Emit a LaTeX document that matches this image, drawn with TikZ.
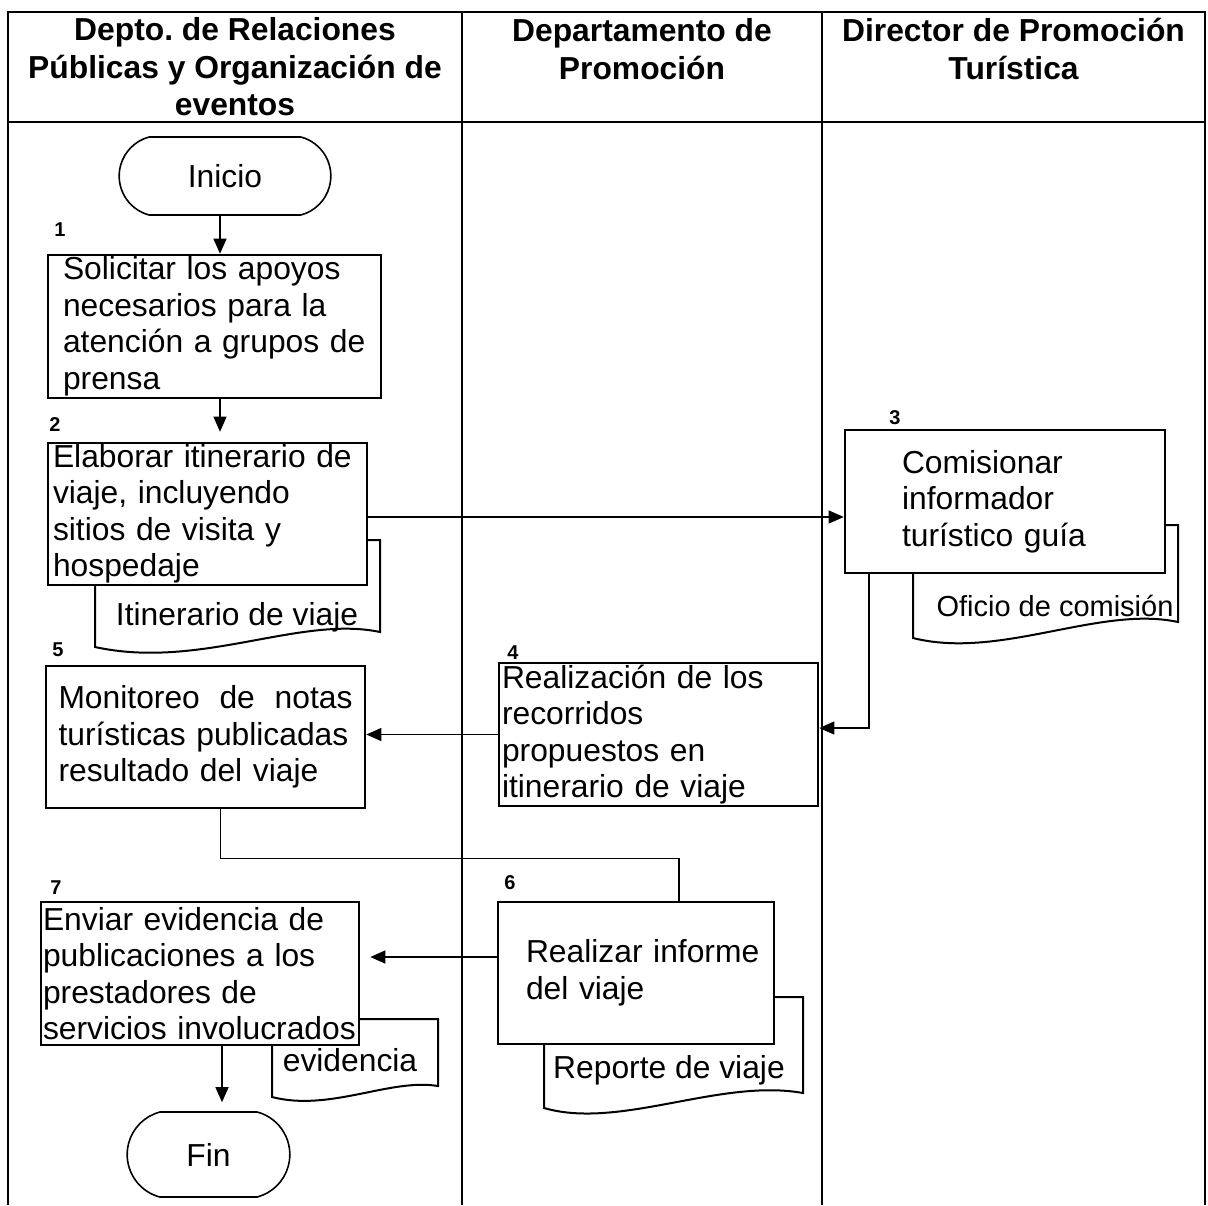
\documentclass[tikz,border=0pt]{standalone}
\usepackage{fontspec}
\setmainfont{Liberation Sans}
\usetikzlibrary{arrows.meta,shapes.misc}

\begin{document}
\begin{tikzpicture}[x=0.5pt,y=-0.5pt,
    lane/.style={line width=1pt},
    head/.style={align=center,font=\bfseries\fontsize{15.9}{18.75}\selectfont},
    task/.style={draw,line width=1.3pt,fill=white,align=left,inner ysep=0pt,
      font=\fontsize{15.9}{18.25}\selectfont},
    term/.style={draw,line width=0.8pt,rounded rectangle,rounded rectangle arc length=150,
      font=\fontsize{15.9}{18.25}\selectfont},
    num/.style={inner sep=0pt,font=\bfseries\fontsize{10}{12}\selectfont},
    doc/.style={line width=1pt},
    doctext/.style={inner sep=0pt,font=\fontsize{15.9}{18.25}\selectfont},
    flow/.style={-{Triangle[length=7.5pt,width=6.5pt]},line width=0.6pt},
    link/.style={line width=0.6pt}]
    \useasboundingbox (0,0) rectangle (1208,1205);
    % Lanes and header
    \draw[lane] (8,1205) -- (8,12) -- (1205,12) -- (1205,1205);
    \draw[lane] (8,122) -- (1205,122);
    \draw[lane] (462,12) -- (462,1205);
    \draw[lane] (822,12) -- (822,1205);
    \node[head] (h1) at (235,67) {Depto.\ de Relaciones\\Públicas y Organización de\\eventos};
    \node[head] (h2) at (642,49) {Departamento de\\Promoción};
    \node[head] (h3) at (1013.5,49) {Director de Promoción\\Turística};
    % Documents behind the boxes
    \draw[doc] (367,540) -- (380,540) -- (380,632) .. controls (300,615) and (200,670) .. (95,647) -- (95,585);
    \node[doctext] (d2) at (237,617) {Itinerario de viaje};
    \draw[doc] (1165,525) -- (1178,525) -- (1178,622) .. controls (1100,605) and (1000,660) .. (913,638) -- (913,573);
    \node[doctext,font=\fontsize{14.5}{17}\selectfont] (d3) at (1055,606) {Oficio de comisión};
    \draw[doc] (774,997) -- (803,997) -- (803,1093) .. controls (720,1078) and (620,1130) .. (544,1108) -- (544,1044);
    \node[doctext] (d6) at (669,1070) {Reporte de viaje};
    \draw[doc] (359,1019) -- (438,1019) -- (438,1086) .. controls (390,1078) and (330,1112) .. (272,1097) -- (272,1045);
    \node[doctext] (d7) at (350,1060) {evidencia};
    % Depto. de Relaciones Publicas
    \node[term,minimum width=112.5pt,minimum height=39pt] (inicio) at (225,176) {Inicio};
    \node[num] (n1) at (60,230) {1};
    \node[task,minimum width=166.5pt,minimum height=71.5pt,inner xsep=7.5pt,text width=151.5pt] (b1) at (214.5,326.5)
      {Solicitar los apoyos\\necesarios para la\\atención a grupos de\\prensa};
    \node[num] (n2) at (55,425) {2};
    \node[task,minimum width=159.5pt,minimum height=71pt,inner xsep=2.5pt,text width=154.5pt] (b2) at (207.5,514)
      {Elaborar itinerario de\\viaje, incluyendo\\sitios de visita y\\hospedaje};
    \node[num] (n5) at (58,650) {5};
    \node[task,minimum width=159.5pt,minimum height=71pt,inner xsep=6.25pt,text width=147pt] (b5) at (205.5,737)
      {Monitoreo\hfill de\hfill notas\\\mbox{turísticas publicadas}\\resultado del viaje};
    \node[num] (n7) at (56,888) {7};
    \node[task,minimum width=159pt,minimum height=71.5pt,inner xsep=1pt,text width=157pt] (b7) at (200,973.5)
      {Enviar evidencia de\\publicaciones a los\\prestadores de\\\mbox{servicios involucrados}};
    \node[term,minimum width=88pt,minimum height=42.5pt] (fin) at (208.5,1154.5) {Fin};
    % Departamento de Promocion
    \node[num] (n4) at (513,653) {4};
    \node[task,minimum width=159.5pt,minimum height=71.5pt,inner xsep=1.5pt,text width=156.5pt] (b4) at (658.5,734.5)
      {Realización de los\\recorridos\\propuestos en\\itinerario de viaje};
    \node[num] (n6) at (510,883) {6};
    \node[task,minimum width=138pt,minimum height=71pt,inner xsep=8pt,text width=122pt] (b6) at (636,973)
      {\mbox{\hspace{6pt}Realizar informe}\\\hspace*{6pt}del viaje};
    % Director de Promocion Turistica
    \node[num] (n3) at (895,418) {3};
    \node[task,minimum width=160pt,minimum height=71.5pt,inner xsep=28.5pt,text width=103pt] (b3) at (1005,501.5)
      {Comisionar\\informador\\turístico guía};
    % Connectors
    \draw[flow] ([xshift=-2.5pt]inicio.south) -- ([xshift=-2.5pt]inicio.south |- b1.north);
    \draw[flow,shorten >=5pt] ([xshift=2.75pt]b1.south) -- ([xshift=2.75pt]b1.south |- b2.north);
    \draw[flow] ([yshift=-1.5pt]b2.east) -- ([yshift=-1.5pt]b2.east -| b3.west);
    \draw[flow] ([xshift=-68pt]b3.south) |- ([yshift=3.25pt]b4.east);
    \draw[flow] (b4.west) -- (b4.west -| b5.east);
    \draw[link] ([xshift=7.5pt]b5.south) -- ++(0,49) -| ([xshift=21.5pt]b6.north);
    \draw[flow,shorten >=5pt] ([yshift=8pt]b6.west) -- ([yshift=8pt]b6.west -| b7.east);
    \draw[flow,shorten >=4.5pt] ([xshift=11pt]b7.south) -- ([xshift=11pt]b7.south |- fin.north);
\end{tikzpicture}
\end{document}
